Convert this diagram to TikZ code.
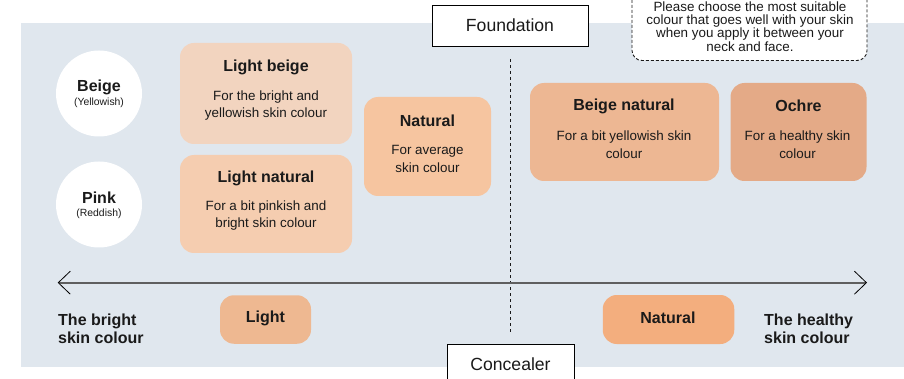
\documentclass[tikz,border=0pt]{standalone}
\usepackage{fontspec}
\setmainfont{Liberation Sans}
\usetikzlibrary{arrows.meta}
\definecolor{panel}{HTML}{E0E7EE}
\definecolor{cLightBeige}{HTML}{F2D4BF}
\definecolor{cLightNatural}{HTML}{F5CDB0}
\definecolor{cNatural}{HTML}{F6C5A0}
\definecolor{cBeigeNatural}{HTML}{EDB793}
\definecolor{cOchre}{HTML}{E4AA87}
\definecolor{cConLight}{HTML}{EEB891}
\definecolor{cConNatural}{HTML}{F3AE7E}
\definecolor{ink}{HTML}{1A1A1A}
\definecolor{axis}{HTML}{5F5F5F}
\tikzset{
  card/.style={rectangle, rounded corners=14pt, inner sep=0pt},
  ttl/.style={font=\fontsize{16}{18}\selectfont\bfseries, text=ink, inner sep=0pt},
  desc/.style={font=\fontsize{13.4}{17.5}\selectfont, text=ink, align=center, inner sep=0pt},
  tagbox/.style={rectangle, draw=black, line width=0.9pt, fill=white, inner sep=0pt},
  tagtext/.style={font=\fontsize{17.6}{19}\selectfont, text=ink, inner sep=0pt},
  disc/.style={circle, fill=white, minimum size=86pt, inner sep=0pt},
  side/.style={font=\fontsize{16}{18}\selectfont\bfseries, text=ink, align=left, inner sep=0pt, anchor=west},
}
\begin{document}
\begin{tikzpicture}[x=1pt,y=-1pt]
\clip (0,0) rectangle (904,379);
% panel
\fill[panel] (21,23) rectangle (904,367);

% tip callout
\node[rectangle, draw=ink, dashed, dash pattern=on 3pt off 2pt, line width=0.9pt, fill=white,
      rounded corners=10pt, minimum width=235pt, minimum height=90pt, inner sep=0pt] (tip) at (749.5,15.5) {};
\node[font=\fontsize{13.4}{13.2}\selectfont, text=ink, align=center, inner sep=0pt] (tiptext) at (750,26.5)
  {Please choose the most suitable\\colour that goes well with your skin\\when you apply it between your\\neck and face.};

% foundation / concealer tags
\node[tagbox, minimum width=156pt, minimum height=41pt] (found) at (510,25.5) {};
\node[tagtext] (foundtxt) at (510,25) {Foundation};
\node[tagbox, minimum width=127pt, minimum height=50pt] (conc) at (510.5,369) {};
\node[tagtext] (conctxt) at (510.5,364) {Concealer};

% dashed divider
\coordinate (divtop) at (510.7,59);
\coordinate (divbot) at (510.7,332);
\draw[ink, line width=0.8pt, dash pattern=on 3pt off 3pt] (divtop) -- (divbot);

% circles
\node[disc] (beige) at (99,93.5) {};
\node[ttl] (beigeT) at (99,87) {Beige};
\node[font=\fontsize{10.4}{12}\selectfont, text=ink, inner sep=0pt] (beigeS) at (99,102.5) {(Yellowish)};
\node[disc] (pink) at (99,204.5) {};
\node[ttl] (pinkT) at (99,198) {Pink};
\node[font=\fontsize{10.4}{12}\selectfont, text=ink, inner sep=0pt] (pinkS) at (99,213.5) {(Reddish)};

% foundation cards
\node[card, fill=cLightBeige, minimum width=172pt, minimum height=101pt] (lb) at (266,93.5) {};
\node[ttl] (lbT) at (266,67) {Light beige};
\node[desc] (lbD) at (266,105.5) {For the bright and\\yellowish skin colour};

\node[card, fill=cLightNatural, minimum width=172pt, minimum height=98pt] (ln) at (266,204) {};
\node[ttl] (lnT) at (266,178.5) {Light natural};
\node[desc] (lnD) at (266,215.5) {For a bit pinkish and\\bright skin colour};

\node[card, fill=cNatural, minimum width=127pt, minimum height=99pt] (nat) at (427.5,146.5) {};
\node[ttl] (natT) at (427.5,120.5) {Natural};
\node[desc] (natD) at (427.5,159) {For average\\skin colour};

\node[card, fill=cBeigeNatural, minimum width=189pt, minimum height=98pt] (bn) at (624.5,132) {};
\node[ttl] (bnT) at (624,106) {Beige natural};
\node[desc] (bnD) at (624,144.5) {For a bit yellowish skin\\colour};

\node[card, fill=cOchre, minimum width=136pt, minimum height=98pt] (och) at (798.5,132) {};
\node[ttl] (ochT) at (798.5,106) {Ochre};
\node[desc] (ochD) at (797.5,144.5) {For a healthy skin\\colour};

% axis
\coordinate (axL) at (57.7,282.7);
\coordinate (axR) at (867,282.7);
\draw[axis, line width=1.6pt,
  {Straight Barb[length=12pt, width=23pt, line width=0.8pt, color=black]}-{Straight Barb[length=12pt, width=23pt, line width=0.8pt, color=black]}]
  (axL) -- (axR);

% concealer cards
\node[card, fill=cConLight, minimum width=91pt, minimum height=48.5pt] (cl) at (265.5,319.5) {};
\node[ttl] (clT) at (265.5,318) {Light};
\node[card, fill=cConNatural, minimum width=131.5pt, minimum height=49pt] (cn) at (668.5,319.5) {};
\node[ttl] (cnT) at (668,318) {Natural};

% side labels
\node[side] (bright) at (58,329) {The bright\\skin colour};
\node[side] (healthy) at (764,329) {The healthy\\skin colour};
\end{tikzpicture}
\end{document}
